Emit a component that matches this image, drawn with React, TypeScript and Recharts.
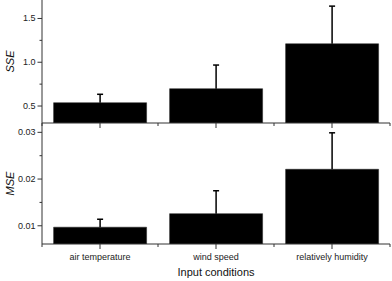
import React from 'react';
import { BarChart, Bar, XAxis, YAxis } from 'recharts';

const categories = ['air temperature', 'wind speed', 'relatively humidity'];
const sseValues = [0.538, 0.698, 1.211];
const sseErrors = [0.096, 0.27, 0.43];
const mseValues = [0.0097, 0.0126, 0.0221];
const mseErrors = [0.0017, 0.0049, 0.0078];

const sseTicks = [0.5, 0.75, 1.0, 1.25, 1.5];
const sseMajor = [0.5, 1.0, 1.5];
const mseTicks = [0.01, 0.015, 0.02, 0.025, 0.03];
const mseMajor = [0.01, 0.02, 0.03];

const sseData = categories.map((name, i) => ({ name, value: sseValues[i], err: sseErrors[i] }));
const mseData = categories.map((name, i) => ({ name, value: mseValues[i], err: mseErrors[i] }));

const FONT = '"Liberation Sans", Arial, sans-serif';
const AXIS = '#333';

const makeYTick = (major: number[], digits: number) => (props: any) => {
  const { x, y, payload } = props;
  const v = payload.value;
  const isMajor = major.some((m) => Math.abs(m - v) < 1e-9);
  return (
    <g>
      <line x1={x - (isMajor ? 4.5 : 2.5)} x2={x} y1={y} y2={y} stroke={AXIS} strokeWidth={1} />
      {isMajor && (
        <text x={x - 6.5} y={y} textAnchor="end" dominantBaseline="central" fontSize={9} fontFamily={FONT} fill="#222">
          {v.toFixed(digits)}
        </text>
      )}
    </g>
  );
};

const makeXTick = (showLabel: boolean) => (props: any) => {
  const { x, y, payload, index, visibleTicksCount } = props;
  const n = visibleTicksCount || 3;
  const w = typeof props.width === 'number' ? props.width : 348;
  const bw = w / n;
  return (
    <g>
      <line x1={x} x2={x} y1={y} y2={y + 5} stroke={AXIS} strokeWidth={1} />
      <line x1={x - bw / 2} x2={x - bw / 2} y1={y} y2={y + 3} stroke={AXIS} strokeWidth={1} />
      {index === n - 1 && <line x1={x + bw / 2} x2={x + bw / 2} y1={y} y2={y + 3} stroke={AXIS} strokeWidth={1} />}
      {showLabel && (
        <text x={x} y={y + 12.5} textAnchor="middle" dominantBaseline="central" fontSize={9} fontFamily={FONT} fill="#222">
          {payload.value}
        </text>
      )}
    </g>
  );
};

const ErrShape = (props: any) => {
  const { x, y, width, height } = props;
  if (x == null || y == null) return null;
  const cx = x + width / 2;
  return (
    <g>
      <line x1={cx} x2={cx} y1={y + height} y2={y} stroke="#000" strokeWidth={1.5} />
      <line x1={cx - 3} x2={cx + 3} y1={y} y2={y} stroke="#000" strokeWidth={1.5} />
    </g>
  );
};

const yLabel = (text: string) => (props: any) => {
  const vb = props.viewBox || { x: 0, y: 0, width: 42, height: 120 };
  const cx = vb.x + 10;
  const cy = vb.y + vb.height / 2;
  return (
    <text
      x={cx}
      y={cy}
      transform={`rotate(-90, ${cx}, ${cy})`}
      textAnchor="middle"
      dominantBaseline="central"
      fontSize={11}
      fontStyle="italic"
      fontFamily={FONT}
      fill="#111"
    >
      {text}
    </text>
  );
};

const xLabel = (props: any) => {
  const vb = props.viewBox || { x: 42, y: 124, width: 348, height: 37 };
  return (
    <text
      x={vb.x + vb.width / 2}
      y={vb.y + 28}
      textAnchor="middle"
      dominantBaseline="central"
      fontSize={11}
      fontFamily={FONT}
      fill="#111"
    >
      Input conditions
    </text>
  );
};

export default function App() {
  return (
    <div style={{ position: 'absolute', left: 0, top: 0, width: 392, height: 281, background: '#fff' }}>
      <div style={{ position: 'absolute', left: 0, top: 0 }}>
        <BarChart width={392} height={130} data={sseData} margin={{ top: 0, right: 2, left: 0, bottom: 0 }} barCategoryGap="10%">
          <XAxis
            dataKey="name"
            height={7}
            tickSize={0}
            tickMargin={0}
            tickLine={false}
            axisLine={{ stroke: AXIS }}
            tick={makeXTick(false)}
            interval={0}
          />
          <YAxis
            width={42}
            type="number"
            domain={[0.306, 1.711]}
            ticks={sseTicks}
            allowDataOverflow
            tickSize={0}
            tickMargin={0}
            tickLine={false}
            axisLine={{ stroke: AXIS }}
            tick={makeYTick(sseMajor, 1)}
            interval={0}
            label={{ content: yLabel('SSE') }}
          />
          <Bar dataKey="value" stackId="s" fill="#000" stroke="#222" strokeWidth={0.5} isAnimationActive={false} />
          <Bar dataKey="err" stackId="s" shape={ErrShape} isAnimationActive={false} />
        </BarChart>
      </div>
      <div style={{ position: 'absolute', left: 0, top: 120 }}>
        <BarChart width={392} height={161} data={mseData} margin={{ top: 3, right: 2, left: 0, bottom: 0 }} barCategoryGap="10%">
          <XAxis
            dataKey="name"
            height={37}
            tickSize={0}
            tickMargin={0}
            tickLine={false}
            axisLine={{ stroke: AXIS }}
            tick={makeXTick(true)}
            interval={0}
            label={{ content: xLabel }}
          />
          <YAxis
            width={42}
            type="number"
            domain={[0.0061, 0.032]}
            ticks={mseTicks}
            allowDataOverflow
            tickSize={0}
            tickMargin={0}
            tickLine={false}
            axisLine={{ stroke: AXIS }}
            tick={makeYTick(mseMajor, 2)}
            interval={0}
            label={{ content: yLabel('MSE') }}
          />
          <Bar dataKey="value" stackId="m" fill="#000" stroke="#222" strokeWidth={0.5} isAnimationActive={false} />
          <Bar dataKey="err" stackId="m" shape={ErrShape} isAnimationActive={false} />
        </BarChart>
      </div>
    </div>
  );
}
